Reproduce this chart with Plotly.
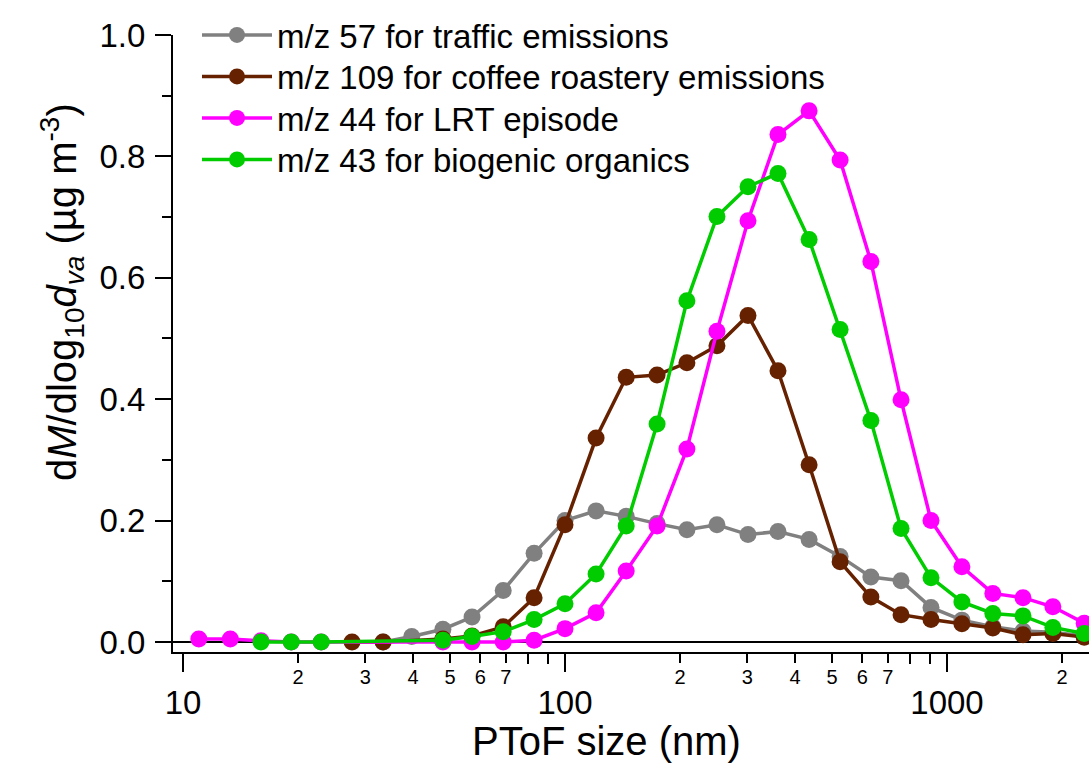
import math
import plotly.graph_objects as go

# ---------------- data ----------------
size_nm = [11.0, 13.3, 16.0, 19.2, 23.0, 27.7, 33.4, 39.7, 47.9, 57.1,
           68.9, 83.0, 100.0, 120.6, 144.6, 174.2, 208.5, 249.9, 301.3, 361.0,
           435.5, 525.0, 632.0, 758.0, 908.0, 1094.0, 1318.0, 1581.0, 1893.0, 2286.0]

mz57_traffic = [None, None, None, None, None, None, 0.0, 0.009, 0.021, 0.041,
                0.085, 0.146, 0.200, 0.216, 0.207, 0.195, 0.185, 0.193, 0.177, 0.182,
                0.169, 0.141, 0.107, 0.101, 0.057, 0.036, 0.025, 0.018, 0.016, 0.010]

mz109_coffee = [None, None, None, None, None, 0.0, 0.0, None, 0.005, 0.010,
                0.025, 0.073, 0.193, 0.336, 0.436, 0.440, 0.460, 0.488, 0.538, 0.447,
                0.292, 0.132, 0.074, 0.045, 0.037, 0.030, 0.023, 0.012, 0.014, 0.008]

mz44_lrt = [0.005, 0.005, 0.002, 0.0, 0.0, None, None, None, 0.0, 0.0,
            0.0, 0.003, 0.022, 0.048, 0.117, 0.191, 0.318, 0.512, 0.694, 0.836,
            0.875, 0.794, 0.627, 0.399, 0.200, 0.124, 0.080, 0.073, 0.058, 0.031]

mz43_biogenic = [None, None, 0.0, 0.0, 0.0, None, None, None, 0.003, 0.009,
                 0.017, 0.037, 0.063, 0.112, 0.191, 0.359, 0.562, 0.701, 0.750, 0.772,
                 0.663, 0.515, 0.365, 0.187, 0.106, 0.066, 0.047, 0.043, 0.024, 0.014]

series_names = ["m/z 57 for traffic emissions",
                "m/z 109 for coffee roastery emissions",
                "m/z 44 for LRT episode",
                "m/z 43 for biogenic organics"]
series_values = [mz57_traffic, mz109_coffee, mz44_lrt, mz43_biogenic]
series_colors = ["#808080", "#662200", "#ff00ff", "#00cc00"]

x_major_ticks = [10, 100, 1000]
x_labeled_digits = [2, 3, 4, 5, 6, 7]
x_unlabeled_digits = [8, 9]
y_major_ticks = [0.0, 0.2, 0.4, 0.6, 0.8, 1.0]
y_minor_ticks = [0.1, 0.3, 0.5, 0.7, 0.9]

# ---------------- figure ----------------
FONT = "Liberation Sans, Arial, Helvetica, sans-serif"
W, H = 1089, 766
ML, MR, MT, MB = 173, 0, 35, 114
x_range = [0.9738, 3.3717]
y_range = [-0.0165, 1.0]

fig = go.Figure()
legend_ids = ["legend", "legend2", "legend3", "legend4"]
for name, vals, col, lg in zip(series_names, series_values, series_colors, legend_ids):
    fig.add_trace(go.Scatter(
        x=size_nm, y=vals, name=name, mode="lines+markers",
        connectgaps=True,
        line=dict(color=col, width=3.5),
        marker=dict(color=col, size=17, line=dict(width=0)),
        legend=lg,
    ))

labeled_vals = [d * dec for dec in x_major_ticks for d in x_labeled_digits]
labeled_text = [str(d) for dec in x_major_ticks for d in x_labeled_digits]
unlabeled_vals = [d * dec for dec in x_major_ticks for d in x_unlabeled_digits]

plot_h = H - MT - MB
plot_w = W - ML - MR
row_px = [35, 76.5, 118, 159.5]
legend_layout = {}
for lg, ypx in zip(legend_ids, row_px):
    legend_layout[lg] = dict(
        x=(197 - ML) / plot_w, y=(H - MB - ypx) / plot_h,
        xanchor="left", yanchor="middle",
        font=dict(family=FONT, size=33, color="black"),
        bgcolor="rgba(0,0,0,0)", borderwidth=0, itemwidth=70,
    )

fig.update_layout(
    width=W, height=H,
    margin=dict(l=ML, r=MR, t=MT, b=MB, pad=0, autoexpand=False),
    paper_bgcolor="white", plot_bgcolor="white",
    font=dict(family=FONT, color="black"),
    showlegend=True,
    xaxis=dict(
        type="log", range=x_range, showgrid=False, automargin=False,
        showline=True, linecolor="black", linewidth=2,
        tickmode="array", tickvals=x_major_ticks,
        ticktext=[str(v) for v in x_major_ticks],
        ticks="outside", ticklen=18, tickwidth=2, tickcolor="black",
        tickfont=dict(size=33, family=FONT, color="black"),
        ticklabelstandoff=2,
        minor=dict(tickmode="array", tickvals=unlabeled_vals, ticks="outside",
                   ticklen=10, tickwidth=2, tickcolor="black", showgrid=False),
    ),
    xaxis2=dict(
        type="log", range=x_range, overlaying="x", anchor="y", side="bottom",
        showgrid=False, showline=False, automargin=False,
        tickmode="array", tickvals=labeled_vals, ticktext=labeled_text,
        ticks="outside", ticklen=10, tickwidth=2, tickcolor="black",
        tickfont=dict(size=20, family=FONT, color="black"),
        ticklabelstandoff=-3,
    ),
    yaxis=dict(
        range=y_range, showgrid=False, automargin=False,
        showline=True, linecolor="black", linewidth=2,
        zeroline=True, zerolinecolor="black", zerolinewidth=2,
        tickmode="array", tickvals=y_major_ticks,
        ticktext=["%.1f" % v for v in y_major_ticks],
        ticks="outside", ticklen=16, tickwidth=2, tickcolor="black",
        tickfont=dict(size=33, family=FONT, color="black"),
        ticklabelstandoff=3,
        minor=dict(tickmode="array", tickvals=y_minor_ticks, ticks="outside",
                   ticklen=9, tickwidth=2, tickcolor="black", showgrid=False),
    ),
    **legend_layout,
)

# invisible trace to activate xaxis2
fig.add_trace(go.Scatter(x=[size_nm[0]], y=[None], xaxis="x2", yaxis="y",
                         showlegend=False, hoverinfo="skip"))

fig.add_annotation(
    text="PToF size (nm)", xref="paper", yref="paper",
    x=(606 - ML) / plot_w, y=(H - MB - 741) / plot_h,
    xanchor="center", yanchor="middle", showarrow=False,
    font=dict(size=40, family=FONT, color="black"),
)
fig.add_annotation(
    text="d<i>M</i>/dlog<sub>10</sub><i>d</i><sub><i>va</i></sub> (µg m<sup>-3</sup>)",
    xref="paper", yref="paper",
    x=(62 - ML) / plot_w, y=(H - MB - 292) / plot_h,
    xanchor="center", yanchor="middle", showarrow=False, textangle=-90,
    font=dict(size=40, family=FONT, color="black"),
)

fig.write_html("out.html", config={"displayModeBar": False},
               post_script="document.body.style.margin='0px';document.body.style.overflow='hidden';")
